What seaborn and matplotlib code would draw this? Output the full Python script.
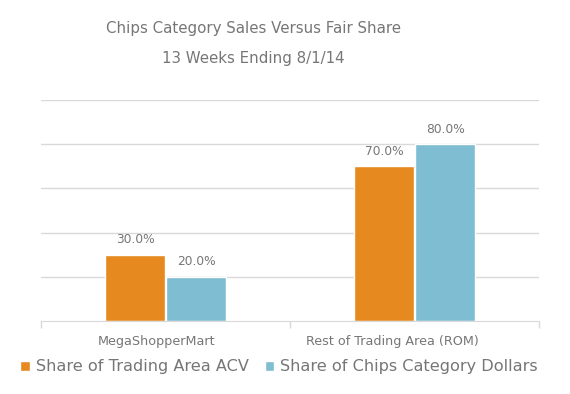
import matplotlib
matplotlib.use("Agg")
import matplotlib.pyplot as plt
import matplotlib.transforms as mtransforms
import seaborn as sns
import pandas as pd
from matplotlib.ticker import FixedLocator

categories = ["MegaShopperMart", "Rest of Trading Area (ROM)"]
series_names = ["Share of Trading Area ACV", "Share of Chips Category Dollars"]
acv_share = [0.30, 0.70]
dollar_share = [0.20, 0.80]
colors = ["#E6891F", "#7FBDD3"]

rows = []
for c, a, d in zip(categories, acv_share, dollar_share):
    rows.append({"cat": c, "series": series_names[0], "val": a})
    rows.append({"cat": c, "series": series_names[1], "val": d})
df = pd.DataFrame(rows)

sns.set_style("white")
plt.rcParams["font.family"] = ["DejaVu Sans"]
gray = "#767676"

fig = plt.figure(figsize=(5.7, 3.94), dpi=100)
ax = fig.add_axes([41/570, 1-321/394, 498/570, 221/394])

sns.barplot(data=df, x="cat", y="val", hue="series", palette=colors,
            width=0.49, gap=0.03, ax=ax, legend=True, saturation=1)

ax.set_ylim(0, 1.0)
ax.set_xlim(-0.5, 1.5)
ax.set_yticks([0.2, 0.4, 0.6, 0.8, 1.0])
ax.set_yticklabels([])
ax.yaxis.grid(True, color="#D9D9D9", linewidth=1)
ax.set_axisbelow(True)
ax.tick_params(axis="y", length=0)
for s in ["top", "right", "left"]:
    ax.spines[s].set_visible(False)
ax.spines["bottom"].set_color("#D9D9D9")
ax.set_xlabel("")
ax.set_ylabel("")
ax.tick_params(axis="x", which="major", length=0, labelsize=9.2, labelcolor=gray, pad=10)
ax.xaxis.set_minor_locator(FixedLocator([-0.5, 0.5, 1.5]))
ax.tick_params(axis="x", which="minor", length=5, width=1, color="#D9D9D9", bottom=True)

shifts = [-9, -22]
for lab, dx in zip(ax.get_xticklabels(), shifts):
    lab.set_transform(lab.get_transform() +
                      mtransforms.ScaledTranslation(dx/100, 0, fig.dpi_scale_trans))

for cont in ax.containers:
    ax.bar_label(cont, labels=[f"{v*100:.1f}%" for v in cont.datavalues],
                 padding=6, color=gray, fontsize=8.8)

h, l = ax.get_legend_handles_labels()
ax.legend_.remove()
fig.legend(h, l, loc="center", bbox_to_anchor=(279/570, 1-367/394), ncol=2,
           frameon=False, fontsize=11.6, labelcolor=gray, handlelength=0.6,
           handleheight=0.6, handletextpad=0.35, columnspacing=1.0)

fig.text(253/570, 1-29/394, "Chips Category Sales Versus Fair Share",
         ha="center", va="center", fontsize=10.8, color=gray)
fig.text(253/570, 1-58/394, "13 Weeks Ending 8/1/14",
         ha="center", va="center", fontsize=10.8, color=gray)

fig.savefig("out.png", dpi=100)
